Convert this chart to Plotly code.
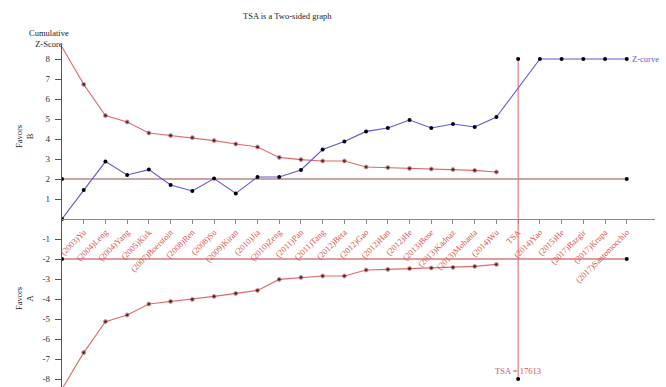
import plotly.graph_objects as go

studies = ["(2003)Yu", "(2004)Leng", "(2004)Yang", "(2005)Kirk", "(2007)Boerstoin", "(2008)Ren",
           "(2008)Su", "(2009)Kiran", "(2010)Jia", "(2010)Zeng", "(2011)Pan", "(2011)Tang",
           "(2012)Beta", "(2012)Gao", "(2012)Han", "(2012)He", "(2013)Bose", "(2013)Kadnaz",
           "(2013)Mohanta", "(2014)Wu", "TSA", "(2014)Yao", "(2015)He", "(2017)Bazgir",
           "(2017)Krupa", "(2017)Santomocchio"]
tick_pos = list(range(1, 27))

z_x = [0, 1, 2, 3, 4, 5, 6, 7, 8, 9, 10, 11, 12, 13, 14, 15, 16, 17, 18, 19, 20, 22, 23, 24, 25, 26]
z_curve = [0, 1.45, 2.87, 2.2, 2.47, 1.7, 1.4, 2.02, 1.28, 2.1, 2.1, 2.45, 3.47, 3.87, 4.38,
           4.55, 4.95, 4.55, 4.75, 4.6, 5.1, 8, 8, 8, 8, 8]

b_x = list(range(0, 21))
upper_bound = [8.6, 6.73, 5.17, 4.85, 4.3, 4.17, 4.07, 3.92, 3.75, 3.6, 3.08, 2.97, 2.9, 2.9,
               2.6, 2.57, 2.53, 2.5, 2.47, 2.43, 2.35]
lower_bound = [-8.5, -6.68, -5.13, -4.8, -4.25, -4.12, -4.02, -3.87, -3.72, -3.57, -3.02, -2.92,
               -2.85, -2.85, -2.55, -2.52, -2.48, -2.45, -2.42, -2.37, -2.27]

sig_level = [2, -2]
sig_x = [0, 26]
tsa_pos = 21
tsa_y = [8, -8]
ris_text = "TSA = 17613"

SERIF = "Liberation Serif, Times New Roman, serif"
RED = "#d9534f"
BLUE = "#5a5ad6"
MK = dict(color="black", size=4, symbol="circle")

fig = go.Figure()

# significance lines
fig.add_trace(go.Scatter(x=sig_x, y=[sig_level[0]] * 2, mode="lines+markers",
                         line=dict(color="#a04848", width=1.1), marker=MK))
fig.add_trace(go.Scatter(x=sig_x, y=[sig_level[1]] * 2, mode="lines+markers",
                         line=dict(color="#c03a3a", width=1.1), marker=MK))

# TSA vertical line
fig.add_trace(go.Scatter(x=[tsa_pos, tsa_pos], y=tsa_y, mode="lines+markers",
                         line=dict(color="#e07070", width=1.1), marker=MK))

# boundaries
msize = [0] + [4] * (len(b_x) - 1)
fig.add_trace(go.Scatter(x=b_x, y=upper_bound, mode="lines+markers",
                         line=dict(color="#e06a6a", width=1.1),
                         marker=dict(color="black", size=msize, symbol="circle")))
fig.add_trace(go.Scatter(x=b_x, y=lower_bound, mode="lines+markers",
                         line=dict(color="#e06a6a", width=1.1),
                         marker=dict(color="black", size=msize, symbol="circle")))

# Z-curve
fig.add_trace(go.Scatter(x=z_x, y=z_curve, mode="lines+markers",
                         line=dict(color=BLUE, width=1.1), marker=MK))

y_lo, y_hi = -8.4, 8.7
fig.update_layout(
    width=666, height=387,
    margin=dict(l=62, r=11, t=45, b=0),
    paper_bgcolor="white", plot_bgcolor="white",
    showlegend=False,
    font=dict(family=SERIF, size=9, color="#333"),
    xaxis=dict(range=[0, 27.3], anchor="free", position=(0 - y_lo) / (y_hi - y_lo),
               showgrid=False, zeroline=False, showline=True, linecolor="#888", linewidth=1.2,
               tickmode="array", tickvals=tick_pos, ticktext=studies, tickangle=-45,
               ticks="outside", ticklen=4, tickcolor="#888",
               tickfont=dict(family=SERIF, size=8.5, color=RED)),
    yaxis=dict(range=[y_lo, y_hi], showgrid=False, zeroline=False, showline=True,
               linecolor="#555", linewidth=1.2, ticks="outside", ticklen=6, tickcolor="#555",
               ticklabelstandoff=3,
               tickmode="array", tickvals=[v for v in range(-8, 9) if v != 0],
               ticktext=[str(v) for v in range(-8, 9) if v != 0],
               tickfont=dict(family=SERIF, size=9, color="#333")),
)

A = dict(showarrow=False, xanchor="center", yanchor="middle")
fig.add_annotation(text="TSA is a Two-sided graph", xref="paper", yref="paper",
                   x=(287 - 62) / 593, y=1 + (45 - 16) / 342,
                   font=dict(family=SERIF, size=8.5, color="#222"), **A)
fig.add_annotation(text="Cumulative<br>Z-Score", xref="paper", yref="paper",
                   x=(49 - 62) / 593, y=1 + (45 - 38) / 342,
                   font=dict(family=SERIF, size=8.5, color="#222"), **A)
fig.add_annotation(text="Favors<br>B", xref="paper", yref="y", x=(24 - 62) / 593, y=4.1,
                   textangle=-90, font=dict(family=SERIF, size=8.5, color="#222"), **A)
fig.add_annotation(text="Favors<br>A", xref="paper", yref="y", x=(24 - 62) / 593, y=-4.0,
                   textangle=-90, font=dict(family=SERIF, size=8.5, color="#222"), **A)
fig.add_annotation(text="Z-curve", x=z_x[-1], y=z_curve[-1], xanchor="left", yanchor="middle",
                   xshift=3, showarrow=False, font=dict(family=SERIF, size=8.5, color=BLUE))
fig.add_annotation(text=ris_text, x=tsa_pos, y=tsa_y[1], yshift=8, showarrow=False,
                   xanchor="center", yanchor="middle",
                   font=dict(family=SERIF, size=8.5, color=RED))

fig.write_html("out.html")
